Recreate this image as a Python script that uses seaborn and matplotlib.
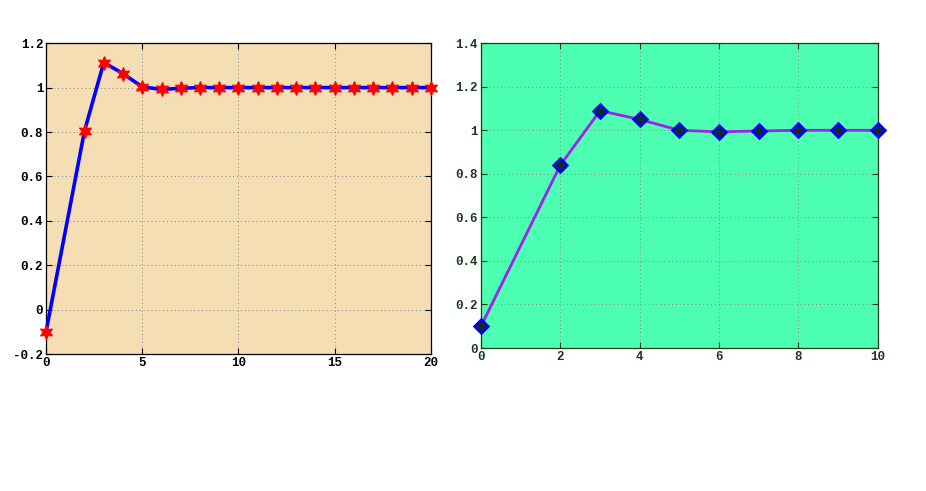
import matplotlib
matplotlib.use("Agg")
import matplotlib.pyplot as plt
import seaborn as sns

sns.set_style("ticks")
plt.rcParams["font.family"] = ["Liberation Mono", "DejaVu Sans Mono"]
plt.rcParams["font.weight"] = "bold"

# left panel: step response sampled over 20 steps
left_x = [0, 2, 3, 4, 5, 6, 7, 8, 9, 10, 11, 12, 13, 14, 15, 16, 17, 18, 19, 20]
left_y = [-0.1, 0.805, 1.113, 1.063, 1.003, 0.992, 0.997, 1.0, 1.0, 1.0,
          1.0, 1.0, 1.0, 1.0, 1.0, 1.0, 1.0, 1.0, 1.0, 1.0]
left_xticks = [0, 5, 10, 15, 20]
left_yticks = [-0.2, 0, 0.2, 0.4, 0.6, 0.8, 1.0, 1.2]
left_ylabels = ["-0.2", "0", "0.2", "0.4", "0.6", "0.8", "1", "1.2"]

# right panel: same response over 10 steps
right_x = [0, 2, 3, 4, 5, 6, 7, 8, 9, 10]
right_y = [0.1, 0.84, 1.09, 1.05, 1.0, 0.993, 0.997, 1.0, 1.0, 1.0]
right_xticks = [0, 2, 4, 6, 8, 10]
right_yticks = [0, 0.2, 0.4, 0.6, 0.8, 1.0, 1.2, 1.4]
right_ylabels = ["0", "0.2", "0.4", "0.6", "0.8", "1", "1.2", "1.4"]

fig = plt.figure(figsize=(9.26, 4.91), dpi=100)
ax1 = fig.add_axes([0.0497, 0.279, 0.4157, 0.633])
ax2 = fig.add_axes([0.5194, 0.2912, 0.4286, 0.6208])


def style_axes(ax, face, edge, xticks, yticks, ylabels, xlim, ylim):
    ax.set_facecolor(face)
    ax.set_xlim(*xlim)
    ax.set_ylim(*ylim)
    ax.set_xticks(xticks)
    ax.set_xticklabels([str(t) for t in xticks])
    ax.set_yticks(yticks)
    ax.set_yticklabels(ylabels)
    ax.tick_params(direction="in", length=4, width=0.8, colors=edge,
                   labelsize=9, top=True, right=True, pad=2)
    for s in ax.spines.values():
        s.set_color(edge)
        s.set_linewidth(0.9)
    ax.grid(True, linestyle=(0, (1, 3)), color="#888888", linewidth=0.7)
    ax.set_xlabel("")
    ax.set_ylabel("")


sns.lineplot(x=left_x, y=left_y, ax=ax1, color="#0000ff", linewidth=2.6,
             marker=(6, 1, 0), markersize=10, markerfacecolor="#ff0000",
             markeredgecolor="#ff0000", markeredgewidth=0.8, zorder=3,
             clip_on=False)
style_axes(ax1, "#f5deb3", "black", left_xticks, left_yticks, left_ylabels,
           (0, 20), (-0.2, 1.2))

sns.lineplot(x=right_x, y=right_y, ax=ax2, color="#a020f0", linewidth=2.0,
             marker="D", markersize=7, markerfacecolor="#102a30",
             markeredgecolor="#0000ff", markeredgewidth=1.8, zorder=3,
             clip_on=False)
style_axes(ax2, "#4dffb0", "#1a3a1a", right_xticks, right_yticks, right_ylabels,
           (0, 10), (0, 1.4))

for ax in (ax1, ax2):
    for lab in ax.get_xticklabels() + ax.get_yticklabels():
        lab.set_fontweight("bold")

fig.savefig("out.png", dpi=100)
